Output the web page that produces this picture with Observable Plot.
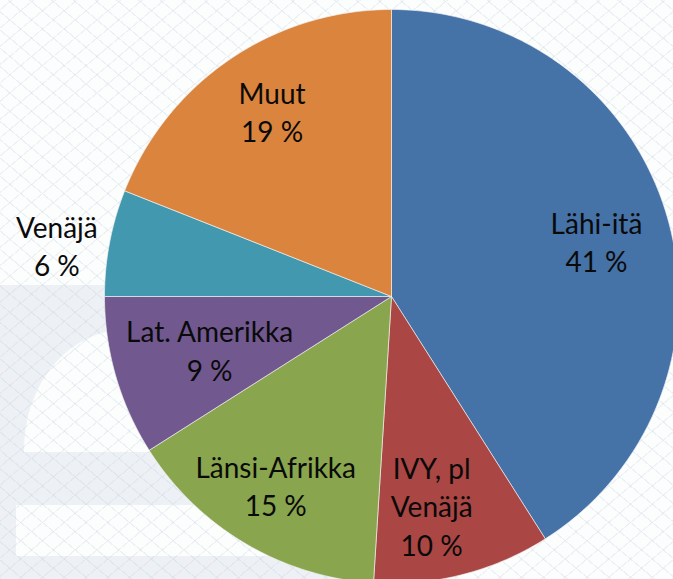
<!DOCTYPE html>
<html><head><meta charset="utf-8">
<script src="https://cdn.jsdelivr.net/npm/d3@7"></script>
<script src="https://cdn.jsdelivr.net/npm/@observablehq/plot@0.6"></script>
<style>
html,body{margin:0;padding:0;}
body{width:673px;height:579px;overflow:hidden;background:#fcfdfd;position:relative;}
.bg{position:absolute;}
#g1{left:0;top:285px;width:420px;height:294px;background:#edf0f4;border-top-right-radius:60px;}
#w1{left:24px;top:330px;width:300px;height:122px;background:#fcfdfd;border-top-left-radius:100px 120px;}
#w2{left:16px;top:505px;width:330px;height:51px;background:#fcfdfd;}
#hatch{left:0;top:0;width:673px;height:579px;
background-image:repeating-linear-gradient(40deg, rgba(190,210,225,0.28) 0 1.2px, transparent 1.2px 14px),
repeating-linear-gradient(-40deg, rgba(205,205,215,0.25) 0 1.2px, transparent 1.2px 14px);}
#chart{position:absolute;left:0;top:0;}
#chart svg{display:block;}
</style></head>
<body>
<div class="bg" id="g1"></div><div class="bg" id="w1"></div><div class="bg" id="w2"></div><div class="bg" id="hatch"></div>
<div id="chart"></div>
<script>
// Data
const categories = ["Lähi-itä", "IVY, pl Venäjä", "Länsi-Afrikka", "Lat. Amerikka", "Venäjä", "Muut"];
const shares = [41, 10, 15, 9, 6, 19];
const colors = ["#4572a7", "#aa4643", "#89a54e", "#71588f", "#4198af", "#db843d"];

// Layout (not data)
const W = 673, H = 579, CX = 391, CY = 296, R = 287;
const labelRadius = {"Lähi-itä": 0.74, "IVY, pl Venäjä": 0.74, "Länsi-Afrikka": 0.77, "Lat. Amerikka": 0.66, "Venäjä": 1.18, "Muut": 0.77};
const labelShiftDeg = {"Lähi-itä": 1, "IVY, pl Venäjä": 3.5, "Länsi-Afrikka": 1, "Lat. Amerikka": 0, "Venäjä": -2, "Muut": 1.5};

const total = d3.sum(shares);
let acc = 0;
const slices = categories.map((name, i) => {
  const a0 = acc / total * 2 * Math.PI;
  acc += shares[i];
  const a1 = acc / total * 2 * Math.PI;
  return {name, value: shares[i], a0, a1};
});

const points = [];
for (const s of slices) {
  points.push({name: s.name, x: 0, y: 0});
  const n = Math.max(4, Math.ceil((s.a1 - s.a0) / (2 * Math.PI) * 360));
  for (let k = 0; k <= n; k++) {
    const a = s.a0 + (s.a1 - s.a0) * k / n;
    points.push({name: s.name, x: Math.sin(a), y: Math.cos(a)});
  }
  points.push({name: s.name, x: 0, y: 0});
}

const labels = slices.map(s => {
  const a = (s.a0 + s.a1) / 2 + labelShiftDeg[s.name] * Math.PI / 180;
  const r = labelRadius[s.name];
  return {name: s.name, x: r * Math.sin(a), y: r * Math.cos(a),
    text: s.name.replace(", pl ", ", pl\n") + "\n" + s.value + " %"};
});

const chart = Plot.plot({
  width: W, height: H,
  margin: 0,
  style: {background: "transparent", overflow: "hidden"},
  x: {domain: [-CX / R, (W - CX) / R], range: [0, W], axis: null},
  y: {domain: [-(H - CY) / R, CY / R], range: [H, 0], axis: null},
  color: {domain: categories, range: colors},
  marks: [
    Plot.line(points, {x: "x", y: "y", z: "name", fill: "name", stroke: "#f4f4f4", strokeWidth: 0.8, strokeOpacity: 0.8, curve: "linear"}),
    Plot.text(labels, {x: "x", y: "y", text: "text", fontSize: 28, lineHeight: 1.38, fill: "#0a0a0a", fontFamily: "Lato"})
  ]
});
document.getElementById("chart").append(chart);
</script>
</body></html>
